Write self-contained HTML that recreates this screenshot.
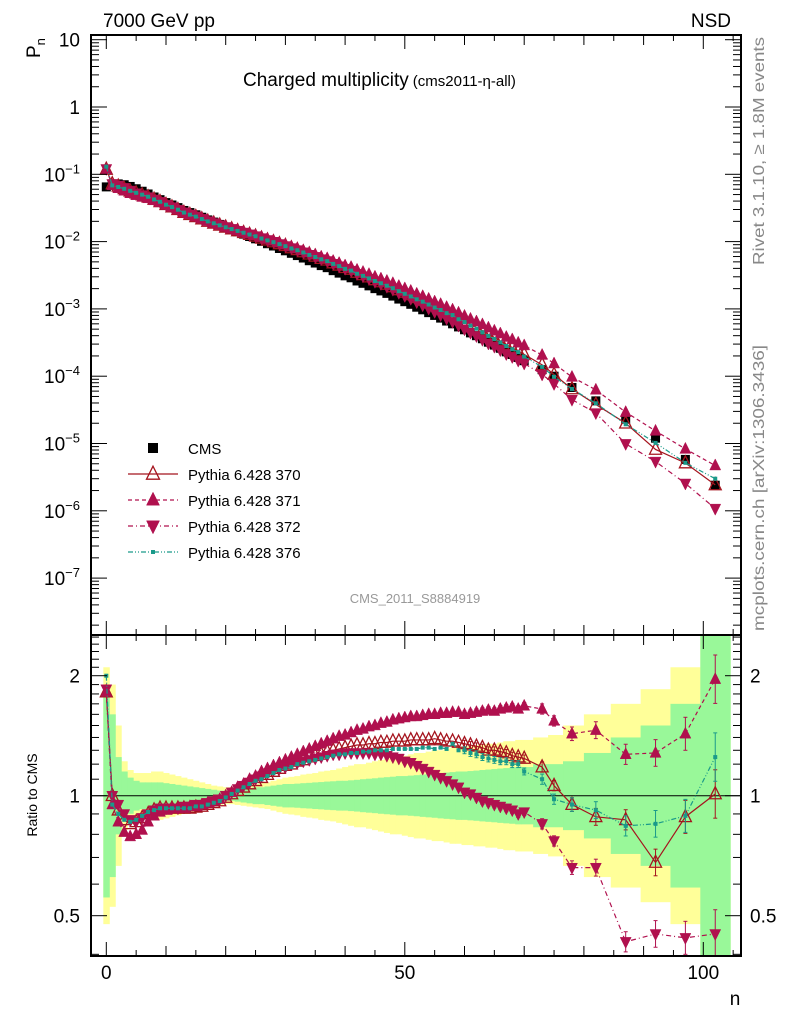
<!DOCTYPE html>
<html><head><meta charset="utf-8"><style>
html,body{margin:0;padding:0;background:#fff;}
svg{display:block;font-family:"Liberation Sans",sans-serif;}
</style></head><body>
<svg id="chart" width="786" height="1024" viewBox="0 0 786 1024" xmlns="http://www.w3.org/2000/svg">
<defs>
<clipPath id="clipTop"><rect x="91" y="35" width="650" height="600"/></clipPath>
<clipPath id="clipBot"><rect x="91" y="635" width="650" height="321"/></clipPath>
</defs>
<g id="bands" clip-path="url(#clipBot)"></g>
<g id="topMarks" clip-path="url(#clipTop)"></g>
<g id="botMarks" clip-path="url(#clipBot)"></g>
<g id="axes"></g>
<text x="103" y="27" font-size="19">7000 GeV pp</text>
<text x="731" y="27" font-size="19" text-anchor="end">NSD</text>
<text transform="translate(40,58) rotate(-90)" font-size="19">P<tspan font-size="13" dy="5">n</tspan></text>
<text x="243" y="86" font-size="19">Charged multiplicity<tspan font-size="15" dx="4">(cms2011-η-all)</tspan></text>
<text x="415" y="603" font-size="13" fill="#999" text-anchor="middle">CMS_2011_S8884919</text>
<text transform="translate(764,265) rotate(-90)" font-size="16" fill="#888" textLength="228" lengthAdjust="spacingAndGlyphs">Rivet 3.1.10, ≥ 1.8M events</text>
<text transform="translate(764,631) rotate(-90)" font-size="16" fill="#888" textLength="286" lengthAdjust="spacingAndGlyphs">mcplots.cern.ch [arXiv:1306.3436]</text>
<text transform="translate(37,795) rotate(-90)" font-size="14" text-anchor="middle">Ratio to CMS</text>
<text x="735" y="1005" font-size="19" text-anchor="middle">n</text>
<g id="legend"></g>
</svg>
<script>
const nVals=[0,1,2,3,4,5,6,7,8,9,10,11,12,13,14,15,16,17,18,19,20,21,22,23,24,25,26,27,28,29,30,31,32,33,34,35,36,37,38,39,40,41,42,43,44,45,46,47,48,49,50,51,52,53,54,55,56,57,58,59,60,61,62,63,64,65,66,67,68,69,70,73,75,78,82,87,92,97,102];
const cmsP=[0.065,0.072,0.072,0.070,0.066,0.061,0.056,0.051,0.046,0.042,0.038,0.035,0.032,0.029,0.027,0.025,0.023,0.021,0.0195,0.018,0.0165,0.0152,0.014,0.0129,0.0119,0.011,0.0101,0.0093,0.0086,0.0079,0.0073,0.0067,0.0062,0.0057,0.0052,0.0048,0.0044,0.0041,0.0037,0.0034,0.0031,0.0029,0.0026,0.0024,0.0022,0.0020,0.00185,0.0017,0.00155,0.0014,0.00128,0.00117,0.00106,0.00097,0.00088,0.0008,0.00073,0.00066,0.0006,0.00054,0.00049,0.00044,0.0004,0.00036,0.00032,0.00029,0.00026,0.00023,0.00021,0.00019,0.00017,0.000125,0.0001,0.000068,0.000043,0.000023,0.000012,0.0000058,0.0000024];
const r370=[1.82,1.0,0.92,0.87,0.85,0.86,0.88,0.90,0.92,0.93,0.93,0.93,0.93,0.93,0.93,0.935,0.94,0.95,0.96,0.97,0.99,1.01,1.03,1.05,1.07,1.09,1.11,1.13,1.15,1.17,1.19,1.2,1.22,1.23,1.25,1.26,1.27,1.29,1.3,1.31,1.32,1.33,1.34,1.34,1.35,1.35,1.36,1.36,1.37,1.37,1.37,1.38,1.38,1.38,1.38,1.39,1.38,1.37,1.37,1.36,1.35,1.34,1.33,1.32,1.3,1.3,1.29,1.28,1.26,1.25,1.24,1.18,1.06,0.95,0.885,0.87,0.68,0.885,1.01];
const r371=[1.82,0.95,0.86,0.81,0.79,0.8,0.82,0.86,0.89,0.91,0.92,0.93,0.93,0.93,0.94,0.94,0.95,0.96,0.97,0.98,1.0,1.02,1.05,1.07,1.1,1.12,1.15,1.17,1.19,1.21,1.23,1.25,1.27,1.29,1.31,1.33,1.35,1.37,1.39,1.41,1.42,1.44,1.46,1.47,1.49,1.5,1.52,1.53,1.55,1.56,1.57,1.58,1.58,1.59,1.6,1.6,1.61,1.61,1.62,1.62,1.6,1.61,1.62,1.63,1.64,1.63,1.65,1.66,1.67,1.65,1.68,1.65,1.54,1.43,1.46,1.27,1.28,1.43,1.96];
const r372=[1.85,1.0,0.95,0.9,0.87,0.86,0.88,0.9,0.92,0.93,0.93,0.93,0.93,0.94,0.94,0.95,0.95,0.96,0.97,0.98,1.0,1.02,1.04,1.06,1.08,1.1,1.12,1.14,1.16,1.17,1.18,1.2,1.21,1.22,1.23,1.24,1.25,1.26,1.27,1.27,1.28,1.28,1.28,1.28,1.28,1.27,1.27,1.26,1.25,1.24,1.22,1.21,1.19,1.17,1.15,1.13,1.11,1.09,1.07,1.05,1.02,1.01,0.99,0.97,0.96,0.95,0.94,0.93,0.92,0.9,0.91,0.85,0.77,0.66,0.66,0.43,0.45,0.44,0.45];
const r376=[2.0,0.95,0.9,0.87,0.86,0.87,0.89,0.91,0.92,0.93,0.93,0.93,0.93,0.93,0.93,0.94,0.94,0.95,0.96,0.97,0.99,1.01,1.03,1.05,1.07,1.09,1.1,1.12,1.14,1.16,1.17,1.18,1.2,1.21,1.22,1.23,1.24,1.25,1.26,1.27,1.27,1.28,1.28,1.29,1.29,1.3,1.3,1.3,1.31,1.31,1.31,1.31,1.31,1.32,1.32,1.31,1.32,1.31,1.35,1.3,1.3,1.28,1.27,1.25,1.24,1.23,1.22,1.22,1.2,1.2,1.15,1.1,0.98,0.95,0.92,0.84,0.85,0.89,1.25];
const statErr=[0.8,0.6,0.25,0.15,0.11,0.09,0.08,0.08,0.08,0.08,0.075,0.07,0.065,0.06,0.055,0.05,0.045,0.04,0.035,0.03,0.03,0.03,0.035,0.04,0.045,0.05,0.05,0.055,0.06,0.065,0.07,0.07,0.072,0.075,0.077,0.08,0.082,0.085,0.087,0.09,0.09,0.093,0.096,0.1,0.103,0.106,0.11,0.113,0.116,0.12,0.12,0.123,0.126,0.13,0.133,0.136,0.14,0.143,0.146,0.15,0.15,0.153,0.156,0.16,0.163,0.166,0.17,0.173,0.176,0.18,0.18,0.2,0.2,0.22,0.28,0.4,0.5,0.7,1.6];
const totErr=[1.1,0.9,0.5,0.22,0.16,0.14,0.14,0.14,0.15,0.15,0.14,0.13,0.12,0.11,0.1,0.09,0.08,0.07,0.06,0.055,0.05,0.05,0.055,0.06,0.065,0.07,0.075,0.08,0.09,0.1,0.11,0.115,0.12,0.13,0.135,0.14,0.15,0.155,0.16,0.17,0.18,0.19,0.2,0.2,0.21,0.22,0.23,0.24,0.25,0.25,0.26,0.27,0.28,0.28,0.29,0.3,0.3,0.31,0.32,0.32,0.33,0.33,0.34,0.34,0.35,0.35,0.36,0.37,0.37,0.38,0.38,0.4,0.42,0.5,0.6,0.7,0.85,1.1,3.0];
const mcErrTail=[0.03,0.03,0.04,0.05,0.06,0.08,0.1,0.15];
const xTickLabels=[0,50,100];
const ratioTickLabels=[0.5,1,2];
const topTickExps=[1,0,-1,-2,-3,-4,-5,-6,-7];

const NS='http://www.w3.org/2000/svg';
const X=n=>106.3+5.97*n;
const YT=p=>107-67.3*Math.log10(p);
const YR=r=>795.7-398.6*Math.log10(r);
function mk(tag,attrs,parent){const e=document.createElementNS(NS,tag);for(const k in attrs)e.setAttribute(k,attrs[k]);parent.appendChild(e);return e;}
const gB=document.getElementById('bands'),gT=document.getElementById('topMarks'),gR=document.getElementById('botMarks'),gA=document.getElementById('axes'),gL=document.getElementById('legend');

function edges(i){const n=nVals[i];const lo=i>0?(n+nVals[i-1])/2:n-0.5;const hi=i<nVals.length-1?(n+nVals[i+1])/2:n+(n-nVals[i-1])/2;return [lo,hi];}
nVals.forEach((n,i)=>{const [a,b]=edges(i);
 const y=mk('rect',{x:X(a),width:X(b)-X(a)+0.5,y:YR(1+totErr[i]),height:YR(1/(1+totErr[i]))-YR(1+totErr[i]),fill:'#ffff99'},gB);
 
 
});
nVals.forEach((n,i)=>{const [a,b]=edges(i);
 const g=mk('rect',{x:X(a),width:X(b)-X(a)+0.5,y:YR(1+statErr[i]),height:YR(1/(1+statErr[i]))-YR(1+statErr[i]),fill:'#99f899'},gB);
 
 
});
const unity=mk('line',{x1:91,x2:741,y1:YR(1),y2:YR(1),stroke:'#000','stroke-width':1},gR);



function marker(type,x,y,color,s,parent){let e;
 if(type==='sq'){e=mk('rect',{x:x-s/2,y:y-s/2,width:s,height:s,fill:color},parent);}
 else if(type==='up'||type==='upo'){e=mk('polygon',{points:`${x},${y-s*0.6} ${x-s/2},${y+s*0.4} ${x+s/2},${y+s*0.4}`,fill:type==='up'?color:'none',stroke:color,'stroke-width':type==='up'?0.5:1.3},parent);}
 else if(type==='dn'){e=mk('polygon',{points:`${x},${y+s*0.6} ${x-s/2},${y-s*0.4} ${x+s/2},${y-s*0.4}`,fill:color,stroke:color,'stroke-width':0.5},parent);}
 else {e=mk('rect',{x:x-2,y:y-2,width:4,height:4,fill:color},parent);}
 return e;}
const series=[
 {r:r370,name:'pythia-370',type:'upo',color:'#a5141e',dash:'',s:12,label:'Pythia 6.428 370'},
 {r:r371,name:'pythia-371',type:'up',color:'#b0104e',dash:'4,3',s:11,label:'Pythia 6.428 371'},
 {r:r372,name:'pythia-372',type:'dn',color:'#b0104e',dash:'5,3,1,3',s:11,label:'Pythia 6.428 372'},
 {r:r376,name:'pythia-376',type:'pt',color:'#1a9a8a',dash:'5,2,1,2,1,2',s:4,label:'Pythia 6.428 376'}];

nVals.forEach((n,i)=>{const m=marker('sq',X(n),YT(cmsP[i]),'#000',9,gT);
 
 });
series.forEach(S=>{
 const ptsT=nVals.map((n,i)=>`${X(n)},${YT(cmsP[i]*S.r[i])}`).join(' ');
 const lt=mk('polyline',{points:ptsT,fill:'none',stroke:S.color,'stroke-width':1.2,'stroke-dasharray':S.dash},gT);
 
 
 const ptsR=nVals.map((n,i)=>`${X(n)},${YR(S.r[i])}`).join(' ');
 const lr=mk('polyline',{points:ptsR,fill:'none',stroke:S.color,'stroke-width':1.2,'stroke-dasharray':S.dash},gR);
 
 
 nVals.forEach((n,i)=>{
  const m=marker(S.type,X(n),YT(cmsP[i]*S.r[i]),S.color,S.s,gT);
  
  
  if(n>=60){const e=i>70?mcErrTail[i-71]:0.02;const y1=YR(S.r[i]*(1+e)),y2=YR(S.r[i]/(1+e));
   const eb=mk('line',{x1:X(n),x2:X(n),y1:y1,y2:y2,stroke:S.color,'stroke-width':1},gR);
   
   
   mk('line',{x1:X(n)-2,x2:X(n)+2,y1:y1,y2:y1,stroke:S.color},gR);
   mk('line',{x1:X(n)-2,x2:X(n)+2,y1:y2,y2:y2,stroke:S.color},gR);}
  const mr=marker(S.type,X(n),YR(S.r[i]),S.color,S.s,gR);
  
  
 });
});

[[35,600],[635,321]].forEach(([y,h],k)=>{const f=mk('rect',{x:91,y:y,width:650,height:h,fill:'none',stroke:'#000','stroke-width':2},gA);
 
 });
for(let n=0;n<=105;n+=5){const L=n%50===0?14:(n%10===0?10:6);
 [[35,1],[635,1],[956,-1],[635,-1]].forEach(([y,d])=>{mk('line',{x1:X(n),x2:X(n),y1:y,y2:y+d*L,stroke:'#000','stroke-width':1},gA);});}
xTickLabels.forEach(v=>{const t=mk('text',{x:X(v),y:979,'font-size':19,'text-anchor':'middle'},gA);t.textContent=v;
 
 });
for(let e=-8;e<=1;e++){for(let m=1;m<10;m++){const p=m*Math.pow(10,e);const y=YT(p);if(y<35||y>635)continue;const L=m===1?16:8;
 mk('line',{x1:91,x2:91+L,y1:y,y2:y,stroke:'#000'},gA);mk('line',{x1:741,x2:741-L,y1:y,y2:y,stroke:'#000'},gA);}}
topTickExps.forEach(e=>{const y=YT(Math.pow(10,e));const t=mk('text',{x:80,y:y+7,'font-size':19,'text-anchor':'end'},gA);
 if(e===1)t.textContent='10';else if(e===0)t.textContent='1';
 else{t.textContent='10';const s=document.createElementNS(NS,'tspan');s.setAttribute('dy','-8');s.setAttribute('font-size','13');s.textContent=String(e).replace('-','−');t.appendChild(s);t.setAttribute('text-anchor','start');t.setAttribute('x',44);}
 
 });
for(let r=0.4;r<=2.55;r+=0.1){const rr=Math.round(r*10)/10;const y=YR(rr);if(y<635||y>956)continue;const L=(rr===0.5||rr===1||rr===2)?16:8;
 mk('line',{x1:91,x2:91+L,y1:y,y2:y,stroke:'#000'},gA);mk('line',{x1:741,x2:741-L,y1:y,y2:y,stroke:'#000'},gA);}
ratioTickLabels.forEach(v=>{[[80,'end'],[750,'start']].forEach(([x,a])=>{const t=mk('text',{x:x,y:YR(v)+7,'font-size':19,'text-anchor':a},gA);t.textContent=v;
 
 });});

const legY=[448,474,500,526,552];
marker('sq',153,legY[0],'#000',10,gL);
const lt0=mk('text',{x:188,y:legY[0]+6,'font-size':15},gL);lt0.textContent='CMS';


series.forEach((S,k)=>{const y=legY[k+1];
 mk('line',{x1:128,x2:178,y1:y,y2:y,stroke:S.color,'stroke-width':1.2,'stroke-dasharray':S.dash},gL);
 marker(S.type,153,y,S.color,S.type==='pt'?4:13,gL);
 const t=mk('text',{x:188,y:y+6,'font-size':15},gL);t.textContent=S.label;
 
 });
</script>
</body></html>
